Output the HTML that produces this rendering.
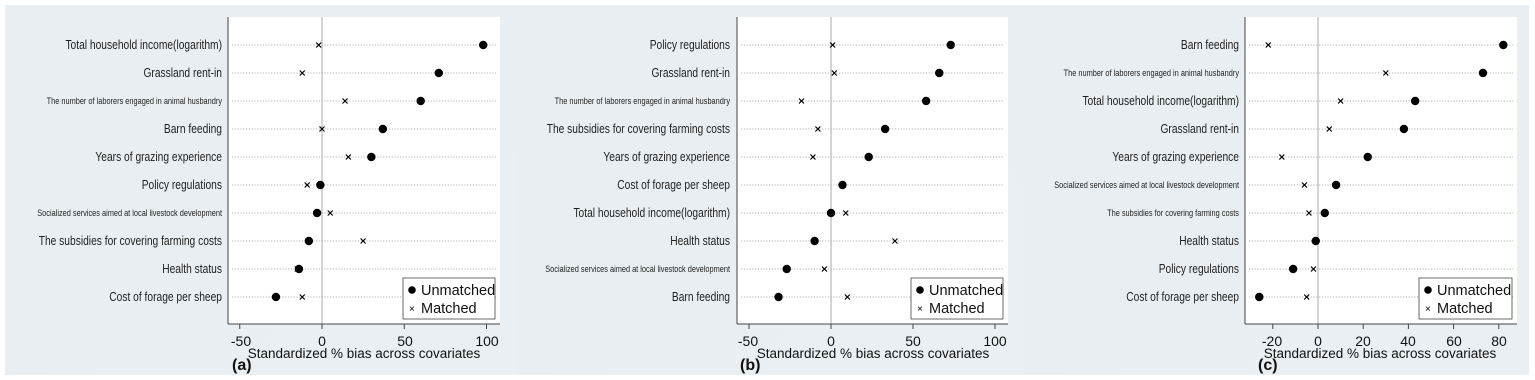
<!DOCTYPE html>
<html><head><meta charset="utf-8"><style>
html,body{margin:0;padding:0;background:#fff;}
svg{display:block;font-family:"Liberation Sans",sans-serif;}
.l{font-size:12.5px;fill:#222;text-anchor:end}
.s{font-size:9px;fill:#222;text-anchor:end}
.t{font-size:14px;fill:#111;text-anchor:middle}
.a{font-size:13.5px;fill:#111;text-anchor:middle}
.g{font-size:14.5px;fill:#111}
.p{font-size:16px;font-weight:bold;fill:#111}
</style></head><body>
<svg id="c" width="1535" height="380" xmlns="http://www.w3.org/2000/svg">
<defs><linearGradient id="bg" x1="0" y1="0" x2="1" y2="1"><stop offset="0" stop-color="#e8eef2"/><stop offset="1" stop-color="#e9eff3"/></linearGradient></defs>
<rect x="5" y="5" width="510" height="370" fill="url(#bg)"/>
<rect x="515" y="5" width="508" height="370" fill="url(#bg)"/>
<rect x="1023" y="5" width="506" height="370" fill="url(#bg)"/>
<rect x="228" y="17" width="272" height="307" fill="#fff"/>
<rect x="737" y="17" width="271" height="307" fill="#fff"/>
<rect x="1245" y="17" width="272" height="307" fill="#fff"/>
<g id="shapes"></g>
<g transform="translate(222,0) scale(0.82,1)">
<text class="l" x="0" y="49">Total household income(logarithm)</text>
<text class="l" x="0" y="77">Grassland rent-in</text>
<text class="s" x="0" y="104">The number of laborers engaged in animal husbandry</text>
<text class="l" x="0" y="133">Barn feeding</text>
<text class="l" x="0" y="161">Years of grazing experience</text>
<text class="l" x="0" y="189">Policy regulations</text>
<text class="s" x="0" y="216">Socialized services aimed at local livestock development</text>
<text class="l" x="0" y="245">The subsidies for covering farming costs</text>
<text class="l" x="0" y="273">Health status</text>
<text class="l" x="0" y="301">Cost of forage per sheep</text>
</g>
<text class="t" x="241" y="346">-50</text><text class="t" x="322" y="346">0</text><text class="t" x="405" y="346">50</text><text class="t" x="487" y="346">100</text>
<text class="a" x="364" y="358">Standardized % bias across covariates</text>
<text class="p" x="232" y="370">(a)</text>
<g transform="translate(730,0) scale(0.82,1)">
<text class="l" x="0" y="49">Policy regulations</text>
<text class="l" x="0" y="77">Grassland rent-in</text>
<text class="s" x="0" y="104">The number of laborers engaged in animal husbandry</text>
<text class="l" x="0" y="133">The subsidies for covering farming costs</text>
<text class="l" x="0" y="161">Years of grazing experience</text>
<text class="l" x="0" y="189">Cost of forage per sheep</text>
<text class="l" x="0" y="217">Total household income(logarithm)</text>
<text class="l" x="0" y="245">Health status</text>
<text class="s" x="0" y="272">Socialized services aimed at local livestock development</text>
<text class="l" x="0" y="301">Barn feeding</text>
</g>
<text class="t" x="748" y="346">-50</text><text class="t" x="831" y="346">0</text><text class="t" x="913" y="346">50</text><text class="t" x="995" y="346">100</text>
<text class="a" x="873" y="358">Standardized % bias across covariates</text>
<text class="p" x="740" y="370">(b)</text>
<g transform="translate(1239,0) scale(0.82,1)">
<text class="l" x="0" y="49">Barn feeding</text>
<text class="s" x="0" y="76">The number of laborers engaged in animal husbandry</text>
<text class="l" x="0" y="105">Total household income(logarithm)</text>
<text class="l" x="0" y="133">Grassland rent-in</text>
<text class="l" x="0" y="161">Years of grazing experience</text>
<text class="s" x="0" y="188">Socialized services aimed at local livestock development</text>
<text class="s" x="0" y="216">The subsidies for covering farming costs</text>
<text class="l" x="0" y="245">Health status</text>
<text class="l" x="0" y="273">Policy regulations</text>
<text class="l" x="0" y="301">Cost of forage per sheep</text>
</g>
<text class="t" x="1272" y="346">-20</text><text class="t" x="1318" y="346">0</text><text class="t" x="1363" y="346">20</text><text class="t" x="1408" y="346">40</text><text class="t" x="1454" y="346">60</text><text class="t" x="1499" y="346">80</text>
<text class="a" x="1380" y="358">Standardized % bias across covariates</text>
<text class="p" x="1258" y="370">(c)</text>
<g>
<rect x="403" y="278" width="92" height="41" fill="#fff" stroke="#444" stroke-width="0.8"/>
<circle cx="412" cy="290" r="3.8" fill="#000"/><text class="g" x="421" y="295">Unmatched</text>
<text x="409" y="312" font-size="10">×</text><text class="g" x="421" y="313">Matched</text>
</g>
<g>
<rect x="911" y="278" width="92" height="41" fill="#fff" stroke="#444" stroke-width="0.8"/>
<circle cx="920" cy="290" r="3.8" fill="#000"/><text class="g" x="929" y="295">Unmatched</text>
<text x="917" y="312" font-size="10">×</text><text class="g" x="929" y="313">Matched</text>
</g>
<g>
<rect x="1419" y="278" width="93" height="41" fill="#fff" stroke="#444" stroke-width="0.8"/>
<circle cx="1428" cy="290" r="3.8" fill="#000"/><text class="g" x="1437" y="295">Unmatched</text>
<text x="1425" y="312" font-size="10">×</text><text class="g" x="1437" y="313">Matched</text>
</g>
</svg>
<script>
var NS="http://www.w3.org/2000/svg",g=document.getElementById("shapes");
function el(n,a){var e=document.createElementNS(NS,n);for(var k in a)e.setAttribute(k,a[k]);g.appendChild(e);return e;}
var P=[
 {ax:228,r:500,z:322,s:1.645,ticks:[-50,0,50,100],
  d:[[98,-2],[71,-12],[60,14],[37,0],[30,16],[-1,-9],[-3,5],[-8,25],[-14,-15],[-28,-12]]},
 {ax:737,r:1008,z:831,s:1.64,ticks:[-50,0,50,100],
  d:[[73,1],[66,2],[58,-18],[33,-8],[23,-11],[7,7],[0,9],[-10,39],[-27,-4],[-32,10]]},
 {ax:1245,r:1517,z:1318,s:2.26,ticks:[-20,0,20,40,60,80],
  d:[[82,-22],[73,30],[43,10],[38,5],[22,-16],[8,-6],[3,-4],[-1,-1],[-11,-2],[-26,-5]]}
];
P.forEach(function(p){
 el("line",{x1:p.z,y1:17,x2:p.z,y2:324,stroke:"#aaa","stroke-width":1});
 p.d.forEach(function(v,i){var y=45+28*i;
  el("line",{x1:p.ax+4,y1:y,x2:p.r-4,y2:y,stroke:"#999","stroke-width":0.7,"stroke-dasharray":"1.2,1.6"});
 });
 p.d.forEach(function(v,i){var y=45+28*i;
  var xm=p.z+v[1]*p.s,xu=p.z+v[0]*p.s;
  el("path",{d:"M"+(xm-2.5)+" "+(y-2.5)+"L"+(xm+2.5)+" "+(y+2.5)+"M"+(xm-2.5)+" "+(y+2.5)+"L"+(xm+2.5)+" "+(y-2.5),stroke:"#000","stroke-width":1.2});
  el("circle",{cx:xu,cy:y,r:4.2,fill:"#000"});
 });
 el("line",{x1:p.ax,y1:17,x2:p.ax,y2:324,stroke:"#444","stroke-width":1});
 el("line",{x1:p.ax,y1:324,x2:p.r,y2:324,stroke:"#444","stroke-width":1});
 p.ticks.forEach(function(t){var x=p.z+t*p.s;el("line",{x1:x,y1:324,x2:x,y2:329,stroke:"#444","stroke-width":1});});
});
</script>
</body></html>
